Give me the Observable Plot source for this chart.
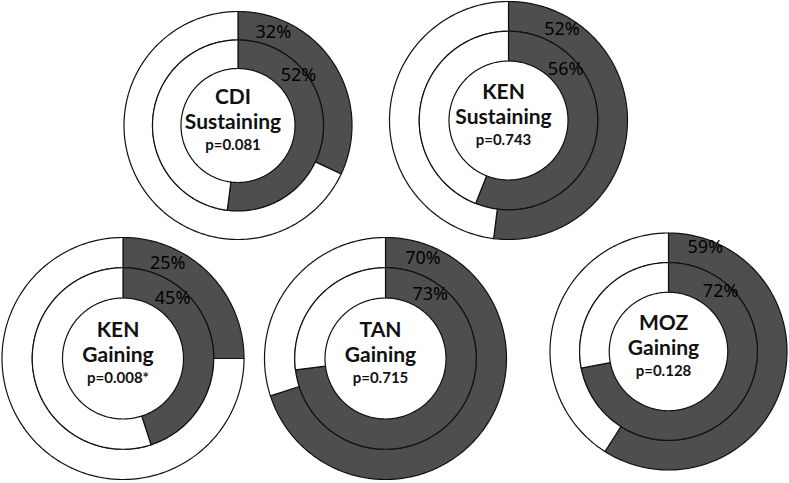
<!DOCTYPE html>
<html>
<head>
<meta charset="utf-8">
<script src="https://cdn.jsdelivr.net/npm/d3@7"></script>
<script src="https://cdn.jsdelivr.net/npm/@observablehq/plot@0.6"></script>
<style>
  html, body { margin: 0; padding: 0; background: #ffffff; }
  #chart svg { display: block; }
</style>
</head>
<body>
<div id="chart"></div>
<script>
// ---- data ----
const countries = ["CDI", "KEN", "KEN", "TAN", "MOZ"];
const groups = ["Sustaining", "Sustaining", "Gaining", "Gaining", "Gaining"];
const pValues = ["p=0.081", "p=0.743", "p=0.008*", "p=0.715", "p=0.128"];
const outerPct = [32, 52, 25, 70, 59];
const innerPct = [52, 56, 45, 73, 72];

// ---- layout (positions/sizes, not data) ----
const layout = [
  {cx: 237.5, cy: 125, R: 114, lo: [0.31, -0.82], li: [0.53, -0.44]},
  {cx: 508,   cy: 120, R: 119, lo: [0.45, -0.77], li: [0.48, -0.43]},
  {cx: 122.5, cy: 358, R: 121, lo: [0.37, -0.79], li: [0.41, -0.50]},
  {cx: 385,   cy: 358, R: 121, lo: [0.31, -0.83], li: [0.37, -0.53]},
  {cx: 668,   cy: 351, R: 118.5, lo: [0.31, -0.88], li: [0.44, -0.51]}
];
const W = 789, H = 483;
const DARK = "#4e4e4e";

// build ring segment polygons from the percentages
function segment(id, L, rIn, rOut, a, b) {
  const pts = [];
  const n = Math.max(2, Math.ceil((b - a) * 360));
  for (let k = 0; k <= n; k++) {
    const t = (a + (b - a) * k / n) * 2 * Math.PI;
    pts.push({id, x: L.cx + rOut * Math.sin(t), y: L.cy - rOut * Math.cos(t)});
  }
  for (let k = n; k >= 0; k--) {
    const t = (a + (b - a) * k / n) * 2 * Math.PI;
    pts.push({id, x: L.cx + rIn * Math.sin(t), y: L.cy - rIn * Math.cos(t)});
  }
  return pts;
}

const darkPts = [], whitePts = [];
const pctLabels = [], centerLabels = [];
countries.forEach((c, i) => {
  const L = layout[i];
  const hole = L.R * 0.5, mid = L.R * 0.75;
  const po = outerPct[i] / 100, pi = innerPct[i] / 100;
  darkPts.push(...segment(`o${i}d`, L, mid, L.R, 0, po));
  whitePts.push(...segment(`o${i}w`, L, mid, L.R, po, 1));
  darkPts.push(...segment(`i${i}d`, L, hole, mid, 0, pi));
  whitePts.push(...segment(`i${i}w`, L, hole, mid, pi, 1));
  pctLabels.push({x: L.cx + L.lo[0] * L.R, y: L.cy + L.lo[1] * L.R, text: outerPct[i] + "%"});
  pctLabels.push({x: L.cx + L.li[0] * L.R, y: L.cy + L.li[1] * L.R, text: innerPct[i] + "%"});
  centerLabels.push({x: L.cx - 5, y: L.cy, country: c, group: groups[i], p: pValues[i]});
});

const font = "Lato, 'Open Sans', sans-serif";
const pctFont = "'Noto Sans', Lato, sans-serif";

const chart = Plot.plot({
  width: W,
  height: H,
  margin: 0,
  x: {domain: [0, W], range: [0, W], axis: null},
  y: {domain: [0, H], range: [0, H], axis: null},
  style: {background: "#ffffff", fontFamily: font},
  marks: [
    Plot.line(darkPts, {x: "x", y: "y", z: "id", curve: "linear-closed", fill: DARK, stroke: "#111", strokeWidth: 1.2}),
    Plot.line(whitePts, {x: "x", y: "y", z: "id", curve: "linear-closed", fill: "#ffffff", stroke: "#111", strokeWidth: 1.2}),
    Plot.text(pctLabels, {x: "x", y: "y", text: "text", fontSize: 18, fill: "#000", fontFamily: pctFont, textAnchor: "middle", lineAnchor: "middle"}),
    Plot.text(centerLabels, {x: "x", y: d => d.y - 28, text: "country", fontSize: 21, fontWeight: "bold", fill: "#111", fontFamily: font, lineAnchor: "middle"}),
    Plot.text(centerLabels, {x: "x", y: d => d.y - 3, text: "group", fontSize: 21, fontWeight: "bold", fill: "#111", fontFamily: font, lineAnchor: "middle"}),
    Plot.text(centerLabels, {x: "x", y: d => d.y + 20, text: "p", fontSize: 15, fontWeight: "bold", fill: "#111", fontFamily: font, lineAnchor: "middle"})
  ]
});
document.getElementById("chart").appendChild(chart);
</script>
</body>
</html>
